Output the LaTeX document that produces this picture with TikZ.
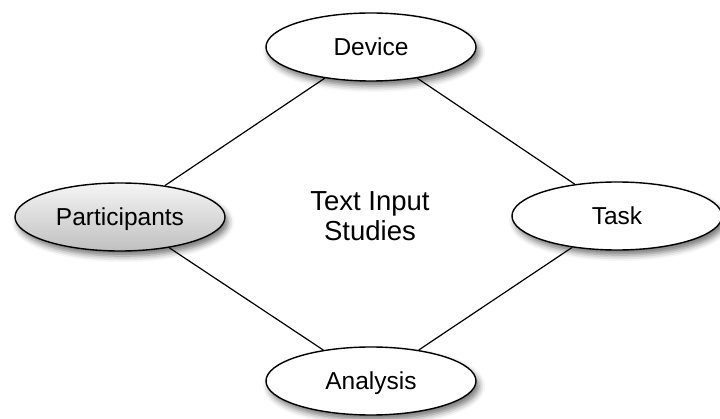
\documentclass[tikz,border=0pt]{standalone}
\usepackage{fontspec}
\setmainfont{Liberation Sans}
\usetikzlibrary{shapes.geometric,shadows.blur}
\tikzset{
  topic/.style={ellipse, draw=black, line width=1.4pt, fill=white,
    minimum width=210pt, minimum height=68pt, inner sep=0pt,
    font=\fontsize{24.5}{28}\selectfont, text height=17.5pt, text depth=0pt,
    blur shadow={shadow xshift=3pt, shadow yshift=-5pt, shadow blur radius=6pt, shadow opacity=55}},
  shaded topic/.style={topic, top color=gray!8, bottom color=gray!50},
  link/.style={draw=black, line width=1.2pt},
  title/.style={align=center, font=\fontsize{27.5}{30}\selectfont}
}
\begin{document}
\begin{tikzpicture}[x=1pt,y=-1pt]
\useasboundingbox (0,0) rectangle (720,419);
\node[topic] (dev) at (371,47) {Device};
\node[shaded topic] (par) at (120,217) {Participants};
\node[topic] (task) at (617,216) {Task};
\node[topic] (ana) at (371,381) {Analysis};
\node[title] (ttl) at (370,216) {Text Input\\Studies};
\draw[link] (dev.214) -- (par.35);
\draw[link] (dev.326) -- (task.143);
\draw[link] (par.328) -- (ana.147);
\draw[link] (task.215) -- (ana.33);
\end{tikzpicture}
\end{document}
